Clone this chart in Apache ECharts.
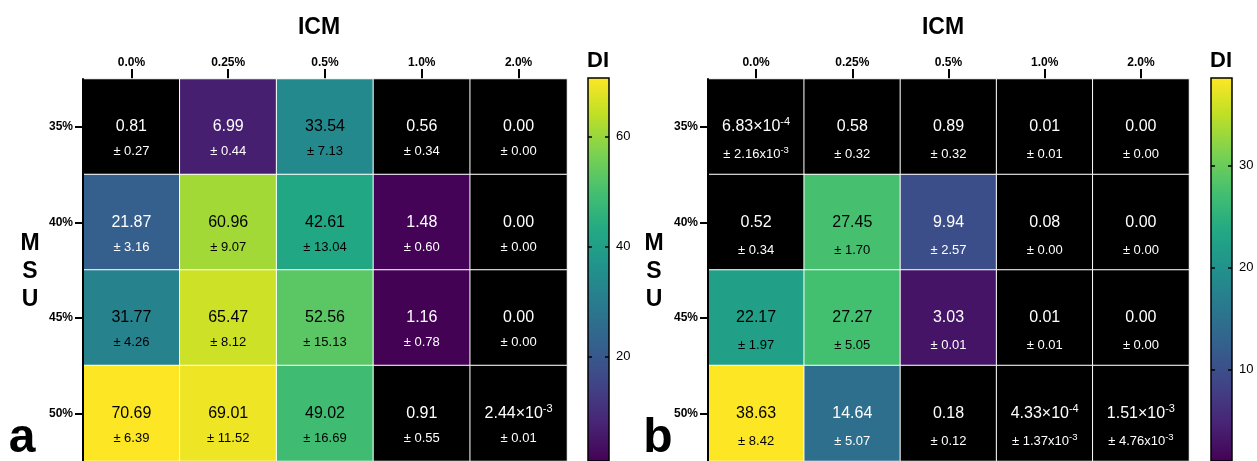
<!DOCTYPE html>
<html>
<head>
<meta charset="utf-8">
<script src="https://cdn.jsdelivr.net/npm/echarts@6/dist/echarts.min.js"></script>
<style>
html,body{margin:0;padding:0;background:#fff;}
#chart{width:1257px;height:461px;}
</style>
</head>
<body>
<div id="chart"></div>
<script>
// ---- data ----
const icmLevels = ['0.0%', '0.25%', '0.5%', '1.0%', '2.0%'];
const msuLevels = ['35%', '40%', '45%', '50%'];

// panel a: mean DI (rows = MSU, cols = ICM)
const meanA = [
  [0.81, 6.99, 33.54, 0.56, 0.00],
  [21.87, 60.96, 42.61, 1.48, 0.00],
  [31.77, 65.47, 52.56, 1.16, 0.00],
  [70.69, 69.01, 49.02, 0.91, 2.44e-3]
];
const sdA = [
  [0.27, 0.44, 7.13, 0.34, 0.00],
  [3.16, 9.07, 13.04, 0.60, 0.00],
  [4.26, 8.12, 15.13, 0.78, 0.00],
  [6.39, 11.52, 16.69, 0.55, 0.01]
];
// panel b
const meanB = [
  [6.83e-4, 0.58, 0.89, 0.01, 0.00],
  [0.52, 27.45, 9.94, 0.08, 0.00],
  [22.17, 27.27, 3.03, 0.01, 0.00],
  [38.63, 14.64, 0.18, 4.33e-4, 1.51e-3]
];
const sdB = [
  [2.16e-3, 0.32, 0.32, 0.01, 0.00],
  [0.34, 1.70, 2.57, 0.00, 0.00],
  [1.97, 5.05, 0.01, 0.01, 0.00],
  [8.42, 5.07, 0.12, 1.37e-3, 4.76e-3]
];
const colorbarTicksA = [20, 40, 60];
const colorbarTicksB = [10, 20, 30];
const colorMin = 1;

// ---- styling helpers ----
const FONT = "'Liberation Sans', Arial, sans-serif";
const viridis = ['#440154', '#482475', '#414487', '#355f8d', '#2a788e', '#21918c',
                 '#22a884', '#44bf70', '#7ad151', '#bddf26', '#fde725'];
const maxA = Math.max(...meanA.flat());
const maxB = Math.max(...meanB.flat());

function sci(v, times) {
  const e = Math.floor(Math.log10(Math.abs(v)));
  const m = v / Math.pow(10, e);
  return [m.toFixed(2) + times + '10', String(e)];
}
function fmtMean(v) {
  if (v !== 0 && Math.abs(v) < 0.005) {
    const p = sci(v, '×');
    return '{v|' + p[0] + '}{vs|' + p[1] + '}';
  }
  return '{v|' + v.toFixed(2) + '}';
}
function fmtSd(v) {
  if (v !== 0 && Math.abs(v) < 0.005) {
    const p = sci(v, 'x');
    return '{e|± ' + p[0] + '}{es|' + p[1] + '}';
  }
  return '{e|± ' + v.toFixed(2) + '}';
}

function buildData(mean, sd, max) {
  const out = [];
  mean.forEach((row, r) => {
    row.forEach((v, c) => {
      const frac = (v - colorMin) / (max - colorMin);
      out.push({
        value: [c, r, v],
        sd: sd[r][c],
        label: { color: frac > 0.4 ? '#000' : '#fff' }
      });
    });
  });
  return out;
}

function richFor(lh) {
  return {
    v: { fontSize: 16, lineHeight: lh, fontFamily: FONT },
    vs: { fontSize: 11, fontFamily: FONT, padding: [0, 0, 9, 0] },
    e: { fontSize: 13, lineHeight: lh, fontFamily: FONT },
    es: { fontSize: 9.5, fontFamily: FONT, padding: [0, 0, 8, 0] }
  };
}

function heatSeries(gi, mean, sd, max, lh) {
  return {
    type: 'heatmap',
    xAxisIndex: gi, yAxisIndex: gi,
    data: buildData(mean, sd, max),
    itemStyle: { borderColor: '#ffffff', borderWidth: 1 },
    emphasis: { disabled: true },
    label: {
      show: true,
      offset: [0, lh / 2],
      formatter: p => fmtMean(p.value[2]) + '\n' + fmtSd(p.data.sd),
      rich: richFor(lh)
    }
  };
}

function gradient() {
  return new echarts.graphic.LinearGradient(0, 1, 0, 0,
    viridis.map((c, i) => ({ offset: i / (viridis.length - 1), color: c })));
}

const catX = (gi) => ({
  type: 'category', gridIndex: gi, position: 'top', data: icmLevels,
  axisLine: { show: false },
  axisTick: { show: true, alignWithLabel: true, length: 10, lineStyle: { color: '#000', width: 2 } },
  axisLabel: { color: '#000', fontWeight: 'bold', fontSize: 12, fontFamily: FONT, margin: 10 },
  splitLine: { show: false }
});
const catY = (gi) => ({
  type: 'category', gridIndex: gi, inverse: true, data: msuLevels, z: 5,
  axisLine: { show: true, lineStyle: { color: '#000', width: 2 } },
  axisTick: { show: true, alignWithLabel: true, length: 8, lineStyle: { color: '#000', width: 2 } },
  axisLabel: { color: '#000', fontWeight: 'bold', fontSize: 12, fontFamily: FONT, margin: 10 },
  splitLine: { show: false }
});
const cbX = (gi) => ({ type: 'category', gridIndex: gi, show: false, data: [''] });
const cbY = (gi, max, ticks, pos, labels) => ({
  type: 'value', gridIndex: gi, min: colorMin, max: max, position: pos, z: 5,
  axisLine: { show: false, onZero: false },
  splitLine: { show: false },
  axisTick: { show: true, inside: true, length: 4, customValues: ticks, lineStyle: { color: '#000', width: 1.5 } },
  axisLabel: { show: labels, customValues: ticks, color: '#000', fontSize: 13, fontFamily: FONT, margin: 7 }
});

const chart = echarts.init(document.getElementById('chart'), null, { renderer: 'canvas' });
chart.setOption({
  backgroundColor: '#ffffff',
  animation: false,
  grid: [
    { left: 83, top: 79, width: 484, height: 386 },
    { left: 708, top: 79, width: 481, height: 386 },
    { left: 588, top: 78, width: 21, height: 385, show: true, backgroundColor: gradient(), borderColor: '#000', borderWidth: 1.5 },
    { left: 1211, top: 78, width: 21, height: 385, show: true, backgroundColor: gradient(), borderColor: '#000', borderWidth: 1.5 }
  ],
  xAxis: [catX(0), catX(1), cbX(2), cbX(3)],
  yAxis: [
    catY(0), catY(1),
    cbY(2, maxA, colorbarTicksA, 'right', true),
    cbY(3, maxB, colorbarTicksB, 'right', true),
    cbY(2, maxA, colorbarTicksA, 'left', false),
    cbY(3, maxB, colorbarTicksB, 'left', false)
  ],
  visualMap: [
    { type: 'continuous', show: false, seriesIndex: 0, dimension: 2, min: colorMin, max: maxA,
      range: [colorMin + 1e-6, maxA],
      inRange: { color: viridis }, outOfRange: { color: '#000000' } },
    { type: 'continuous', show: false, seriesIndex: 1, dimension: 2, min: colorMin, max: maxB,
      range: [colorMin + 1e-6, maxB],
      inRange: { color: viridis }, outOfRange: { color: '#000000' } }
  ],
  series: [
    heatSeries(0, meanA, sdA, maxA, 25),
    heatSeries(1, meanB, sdB, maxB, 28)
  ],
  graphic: [
    { type: 'text', x: 319, y: 28, style: { text: 'ICM', fill: '#000', font: 'bold 23px ' + FONT, align: 'center', verticalAlign: 'middle' } },
    { type: 'text', x: 943, y: 28, style: { text: 'ICM', fill: '#000', font: 'bold 23px ' + FONT, align: 'center', verticalAlign: 'middle' } },
    { type: 'text', x: 598, y: 61, style: { text: 'DI', fill: '#000', font: 'bold 22px ' + FONT, align: 'center', verticalAlign: 'middle' } },
    { type: 'text', x: 1221, y: 61, style: { text: 'DI', fill: '#000', font: 'bold 22px ' + FONT, align: 'center', verticalAlign: 'middle' } },
    { type: 'text', x: 30, y: 272, style: { text: 'M\nS\nU', fill: '#000', font: 'bold 23px ' + FONT, lineHeight: 28, align: 'center', verticalAlign: 'middle' } },
    { type: 'text', x: 654, y: 272, style: { text: 'M\nS\nU', fill: '#000', font: 'bold 23px ' + FONT, lineHeight: 28, align: 'center', verticalAlign: 'middle' } },
    { type: 'text', x: 22, y: 439, style: { text: 'a', fill: '#000', font: 'bold 48px ' + FONT, align: 'center', verticalAlign: 'middle' } },
    { type: 'text', x: 658, y: 439, style: { text: 'b', fill: '#000', font: 'bold 48px ' + FONT, align: 'center', verticalAlign: 'middle' } }
  ]
});
</script>
</body>
</html>
